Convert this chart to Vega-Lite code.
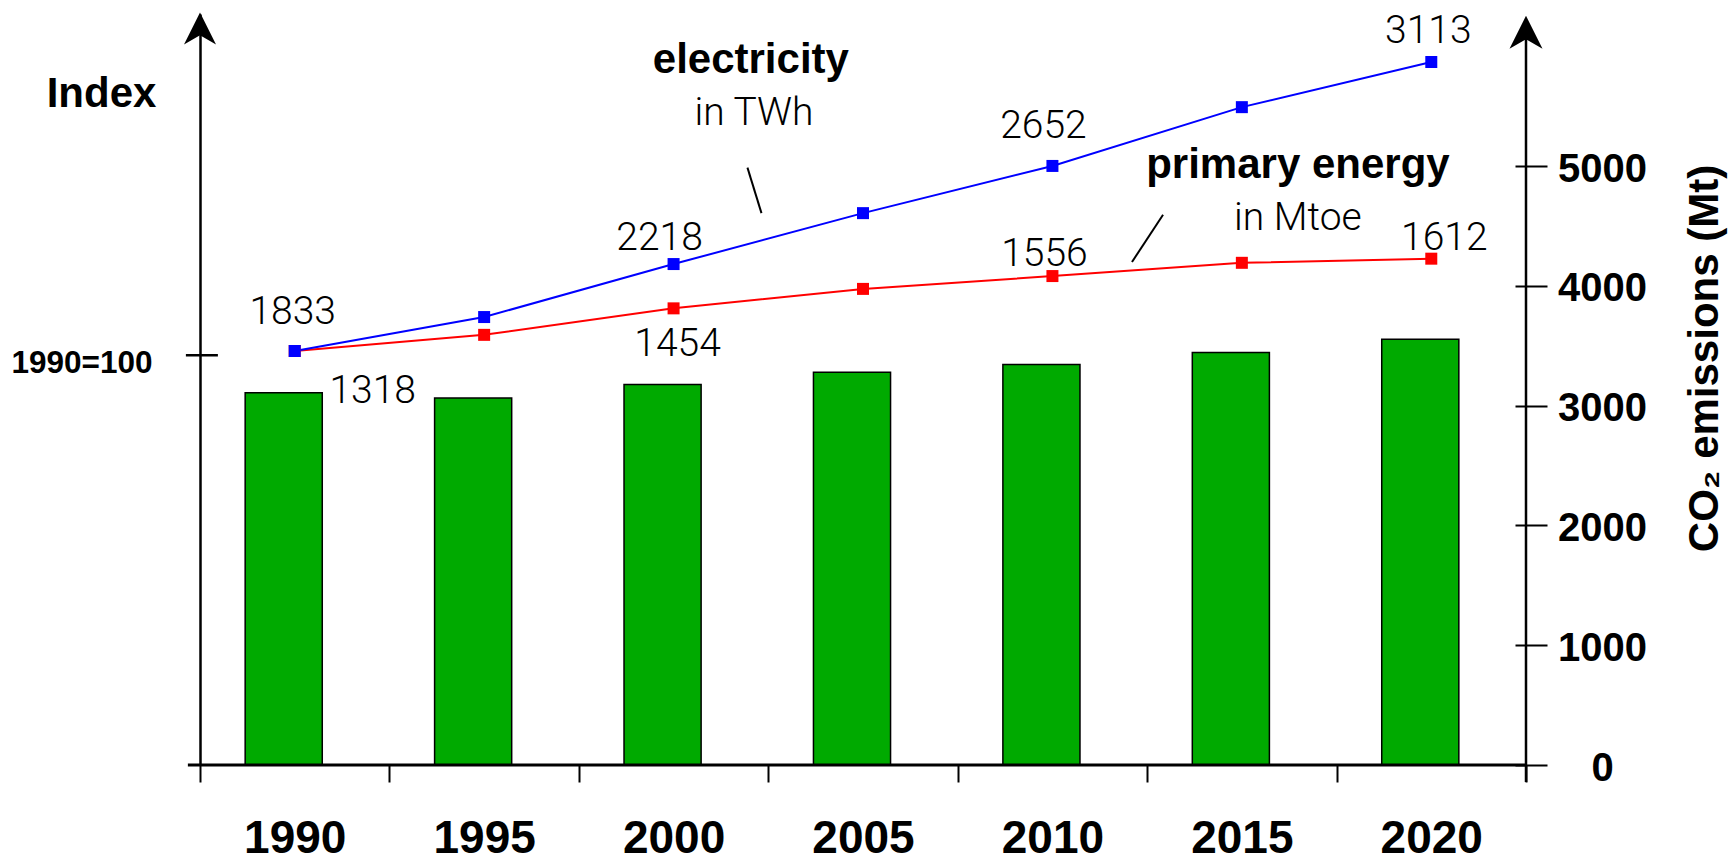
{
  "$schema": "https://vega.github.io/schema/vega-lite/v6.json",
  "autosize": {"type": "none"},
  "width": 1326,
  "height": 751,
  "padding": {"left": 200, "top": 14, "right": 206, "bottom": 98},
  "background": "white",
  "config": {"view": {"stroke": null}, "font": "Liberation Sans"},
  "datasets": {
    "co2": [
      {"year": "1990", "co2": 3108},
      {"year": "1995", "co2": 3063},
      {"year": "2000", "co2": 3177},
      {"year": "2005", "co2": 3278},
      {"year": "2010", "co2": 3343},
      {"year": "2015", "co2": 3444},
      {"year": "2020", "co2": 3555}
    ],
    "energy": [
      {"year": "1990", "series": "primary energy", "index": 100, "value": "1318"},
      {"year": "1995", "series": "primary energy", "index": 103.9, "value": null},
      {"year": "2000", "series": "primary energy", "index": 110.3, "value": "1454"},
      {"year": "2005", "series": "primary energy", "index": 115.0, "value": null},
      {"year": "2010", "series": "primary energy", "index": 118.1, "value": "1556"},
      {"year": "2015", "series": "primary energy", "index": 121.3, "value": null},
      {"year": "2020", "series": "primary energy", "index": 122.3, "value": "1612"},
      {"year": "1990", "series": "electricity", "index": 100, "value": "1833"},
      {"year": "1995", "series": "electricity", "index": 108.2, "value": null},
      {"year": "2000", "series": "electricity", "index": 121.0, "value": "2218"},
      {"year": "2005", "series": "electricity", "index": 133.3, "value": null},
      {"year": "2010", "series": "electricity", "index": 144.7, "value": "2652"},
      {"year": "2015", "series": "electricity", "index": 158.9, "value": null},
      {"year": "2020", "series": "electricity", "index": 169.8, "value": "3113"}
    ]
  },
  "resolve": {"scale": {"x": "independent", "y": "independent"}, "axis": {"x": "independent", "y": "independent"}},
  "layer": [
    {
      "data": {"name": "co2"},
      "mark": {"type": "bar", "color": "#00aa00", "stroke": "#000000", "strokeWidth": 1.5, "width": {"band": 0.407}, "xOffset": -11},
      "encoding": {
        "x": {
          "field": "year", "type": "ordinal",
          "scale": {"type": "band", "paddingInner": 0, "paddingOuter": 0, "domain": ["1990", "1995", "2000", "2005", "2010", "2015", "2020"]},
          "axis": {
            "title": null, "domain": false, "ticks": true, "tickBand": "extent", "tickSize": 17, "tickWidth": 2, "tickColor": "#000000",
            "labelFont": "Liberation Sans", "labelFontWeight": "bold", "labelFontSize": 46, "labelColor": "#000000",
            "labelPadding": 70, "labelBaseline": "alphabetic", "labelAngle": 0, "grid": false
          }
        },
        "y": {
          "field": "co2", "type": "quantitative",
          "scale": {"domain": [0, 6269], "nice": false, "zero": true},
          "axis": {
            "orient": "right", "offset": -11, "domain": false, "grid": false,
            "values": [0, 1000, 2000, 3000, 4000, 5000], "format": "d",
            "tickSize": 32, "tickWidth": 2, "tickColor": "#000000",
            "labelFont": "Liberation Sans", "labelFontWeight": "bold", "labelFontSize": 40, "labelColor": "#000000",
            "labelAlign": "center", "labelBaseline": "middle", "labelPadding": 55, "labelOffset": 3,
            "title": "CO₂ emissions (Mt)", "titleFont": "Liberation Sans", "titleFontSize": 42, "titleFontWeight": "bold", "titleColor": "#000000",
            "titleAngle": 270, "titleAlign": "center", "titleBaseline": "middle", "titleX": 189, "titleY": 344
          }
        }
      }
    },
    {
      "data": {"name": "energy"},
      "encoding": {
        "x": {
          "field": "year", "type": "ordinal",
          "scale": {"type": "band", "paddingInner": 0, "paddingOuter": 0, "domain": ["1990", "1995", "2000", "2005", "2010", "2015", "2020"]},
          "axis": null
        },
        "y": {
          "field": "index", "type": "quantitative",
          "scale": {"domain": [0, 181.4], "nice": false, "zero": true},
          "axis": {
            "orient": "left", "domain": true, "domainColor": "#000000", "domainWidth": 2.5, "grid": false,
            "ticks": false, "tickSize": 0, "values": [99], "labelExpr": "'1990=100'",
            "labelFont": "Liberation Sans", "labelFontWeight": "bold", "labelFontSize": 31.5, "labelColor": "#000000",
            "labelPadding": 48, "labelBaseline": "middle", "labelAlign": "right", "labelOffset": 8.5,
            "title": "Index", "titleAngle": 0, "titleAlign": "center", "titleBaseline": "alphabetic", "titleX": -99, "titleY": 92,
            "titleFont": "Liberation Sans", "titleFontSize": 42, "titleFontWeight": "bold", "titleColor": "#000000"
          }
        }
      },
      "layer": [
        {
          "mark": {"type": "line", "strokeWidth": 2},
          "encoding": {
            "color": {"field": "series", "type": "nominal", "scale": {"domain": ["primary energy", "electricity"], "range": ["#ff0000", "#0000ff"]}, "legend": null}
          }
        },
        {
          "mark": {"type": "point", "shape": "square", "filled": true, "size": 144, "opacity": 1},
          "encoding": {
            "color": {"field": "series", "type": "nominal", "scale": {"domain": ["primary energy", "electricity"], "range": ["#ff0000", "#0000ff"]}, "legend": null}
          }
        },
        {"transform": [{"filter": "datum.value === '1833'"}], "mark": {"type": "text", "font": "Roboto", "fontWeight": 300, "fontSize": 39, "color": "#000000", "align": "center", "baseline": "alphabetic", "dx": -2, "dy": -27}, "encoding": {"text": {"field": "value", "type": "nominal"}}},
        {"transform": [{"filter": "datum.value === '2218'"}], "mark": {"type": "text", "font": "Roboto", "fontWeight": 300, "fontSize": 39, "color": "#000000", "align": "center", "baseline": "alphabetic", "dx": -14, "dy": -14}, "encoding": {"text": {"field": "value", "type": "nominal"}}},
        {"transform": [{"filter": "datum.value === '2652'"}], "mark": {"type": "text", "font": "Roboto", "fontWeight": 300, "fontSize": 39, "color": "#000000", "align": "center", "baseline": "alphabetic", "dx": -9, "dy": -28}, "encoding": {"text": {"field": "value", "type": "nominal"}}},
        {"transform": [{"filter": "datum.value === '3113'"}], "mark": {"type": "text", "font": "Roboto", "fontWeight": 300, "fontSize": 39, "color": "#000000", "align": "center", "baseline": "alphabetic", "dx": -3, "dy": -19}, "encoding": {"text": {"field": "value", "type": "nominal"}}},
        {"transform": [{"filter": "datum.value === '1318'"}], "mark": {"type": "text", "font": "Roboto", "fontWeight": 300, "fontSize": 39, "color": "#000000", "align": "center", "baseline": "alphabetic", "dx": 78, "dy": 52}, "encoding": {"text": {"field": "value", "type": "nominal"}}},
        {"transform": [{"filter": "datum.value === '1454'"}], "mark": {"type": "text", "font": "Roboto", "fontWeight": 300, "fontSize": 39, "color": "#000000", "align": "center", "baseline": "alphabetic", "dx": 4, "dy": 48}, "encoding": {"text": {"field": "value", "type": "nominal"}}},
        {"transform": [{"filter": "datum.value === '1556'"}], "mark": {"type": "text", "font": "Roboto", "fontWeight": 300, "fontSize": 39, "color": "#000000", "align": "center", "baseline": "alphabetic", "dx": -8, "dy": -10}, "encoding": {"text": {"field": "value", "type": "nominal"}}},
        {"transform": [{"filter": "datum.value === '1612'"}], "mark": {"type": "text", "font": "Roboto", "fontWeight": 300, "fontSize": 39, "color": "#000000", "align": "center", "baseline": "alphabetic", "dx": 13, "dy": -9}, "encoding": {"text": {"field": "value", "type": "nominal"}}}
      ]
    },
    {
      "data": {"values": [{}]},
      "layer": [
        {
          "mark": {"type": "text", "font": "Liberation Sans", "fontWeight": "bold", "fontSize": 42, "color": "#000000", "align": "center", "baseline": "alphabetic"},
          "encoding": {
            "x": {"datum": 2002.04, "type": "quantitative", "scale": {"domain": [1987.5, 2022.5], "nice": false, "zero": false}, "axis": null},
            "y": {"datum": 167.1, "type": "quantitative", "scale": {"domain": [0, 181.4], "nice": false, "zero": false}, "axis": null},
            "text": {"value": "electricity"}
          }
        },
        {
          "mark": {"type": "text", "font": "Roboto", "fontWeight": 300, "fontSize": 39, "color": "#000000", "align": "center", "baseline": "alphabetic"},
          "encoding": {
            "x": {"datum": 2002.12, "type": "quantitative", "scale": {"domain": [1987.5, 2022.5], "nice": false, "zero": false}, "axis": null},
            "y": {"datum": 154.6, "type": "quantitative", "scale": {"domain": [0, 181.4], "nice": false, "zero": false}, "axis": null},
            "text": {"value": "in TWh"}
          }
        },
        {
          "mark": {"type": "text", "font": "Liberation Sans", "fontWeight": "bold", "fontSize": 42, "color": "#000000", "align": "center", "baseline": "alphabetic"},
          "encoding": {
            "x": {"datum": 2016.48, "type": "quantitative", "scale": {"domain": [1987.5, 2022.5], "nice": false, "zero": false}, "axis": null},
            "y": {"datum": 141.8, "type": "quantitative", "scale": {"domain": [0, 181.4], "nice": false, "zero": false}, "axis": null},
            "text": {"value": "primary energy"}
          }
        },
        {
          "mark": {"type": "text", "font": "Roboto", "fontWeight": 300, "fontSize": 39, "color": "#000000", "align": "center", "baseline": "alphabetic"},
          "encoding": {
            "x": {"datum": 2016.48, "type": "quantitative", "scale": {"domain": [1987.5, 2022.5], "nice": false, "zero": false}, "axis": null},
            "y": {"datum": 129.2, "type": "quantitative", "scale": {"domain": [0, 181.4], "nice": false, "zero": false}, "axis": null},
            "text": {"value": "in Mtoe"}
          }
        },
        {
          "mark": {"type": "rule", "color": "#000000", "strokeWidth": 2},
          "encoding": {
            "x": {"datum": 2001.95, "type": "quantitative", "scale": {"domain": [1987.5, 2022.5], "nice": false, "zero": false}, "axis": null},
            "x2": {"datum": 2002.32},
            "y": {"datum": 144.3, "type": "quantitative", "scale": {"domain": [0, 181.4], "nice": false, "zero": false}, "axis": null},
            "y2": {"datum": 133.3}
          }
        },
        {
          "mark": {"type": "rule", "color": "#000000", "strokeWidth": 2},
          "encoding": {
            "x": {"datum": 2012.92, "type": "quantitative", "scale": {"domain": [1987.5, 2022.5], "nice": false, "zero": false}, "axis": null},
            "x2": {"datum": 2012.1},
            "y": {"datum": 132.9, "type": "quantitative", "scale": {"domain": [0, 181.4], "nice": false, "zero": false}, "axis": null},
            "y2": {"datum": 121.5}
          }
        },
        {
          "mark": {"type": "rule", "color": "#000000", "strokeWidth": 3},
          "encoding": {
            "x": {"datum": 1987.18, "type": "quantitative", "scale": {"domain": [1987.5, 2022.5], "nice": false, "zero": false}, "axis": null},
            "x2": {"datum": 2022.5},
            "y": {"datum": 0, "type": "quantitative", "scale": {"domain": [0, 181.4], "nice": false, "zero": false}, "axis": null}
          }
        },
        {
          "mark": {"type": "rule", "color": "#000000", "strokeWidth": 2.5},
          "encoding": {
            "x": {"datum": 2022.5, "type": "quantitative", "scale": {"domain": [1987.5, 2022.5], "nice": false, "zero": false}, "axis": null},
            "y": {"datum": -4.1, "type": "quantitative", "scale": {"domain": [0, 181.4], "nice": false, "zero": false}, "axis": null},
            "y2": {"datum": 177}
          }
        },
        {
          "mark": {"type": "tick", "orient": "horizontal", "color": "#000000", "thickness": 2.5, "size": 32, "opacity": 1},
          "encoding": {
            "x": {"datum": 1987.55, "type": "quantitative", "scale": {"domain": [1987.5, 2022.5], "nice": false, "zero": false}, "axis": null},
            "y": {"datum": 99, "type": "quantitative", "scale": {"domain": [0, 181.4], "nice": false, "zero": false}, "axis": null}
          }
        },
        {
          "mark": {"type": "point", "shape": "M0,-1L1,1L0,0.42L-1,1Z", "filled": true, "color": "#000000", "opacity": 1, "size": 1024, "strokeWidth": 0},
          "encoding": {
            "x": {"datum": 1987.5, "type": "quantitative", "scale": {"domain": [1987.5, 2022.5], "nice": false, "zero": false}, "axis": null},
            "y": {"datum": 177.9, "type": "quantitative", "scale": {"domain": [0, 181.4], "nice": false, "zero": false}, "axis": null}
          }
        },
        {
          "mark": {"type": "point", "shape": "M0,-1L1,1L0,0.42L-1,1Z", "filled": true, "color": "#000000", "opacity": 1, "size": 1089, "strokeWidth": 0},
          "encoding": {
            "x": {"datum": 2022.5, "type": "quantitative", "scale": {"domain": [1987.5, 2022.5], "nice": false, "zero": false}, "axis": null},
            "y": {"datum": 177.0, "type": "quantitative", "scale": {"domain": [0, 181.4], "nice": false, "zero": false}, "axis": null}
          }
        }
      ]
    }
  ]
}
